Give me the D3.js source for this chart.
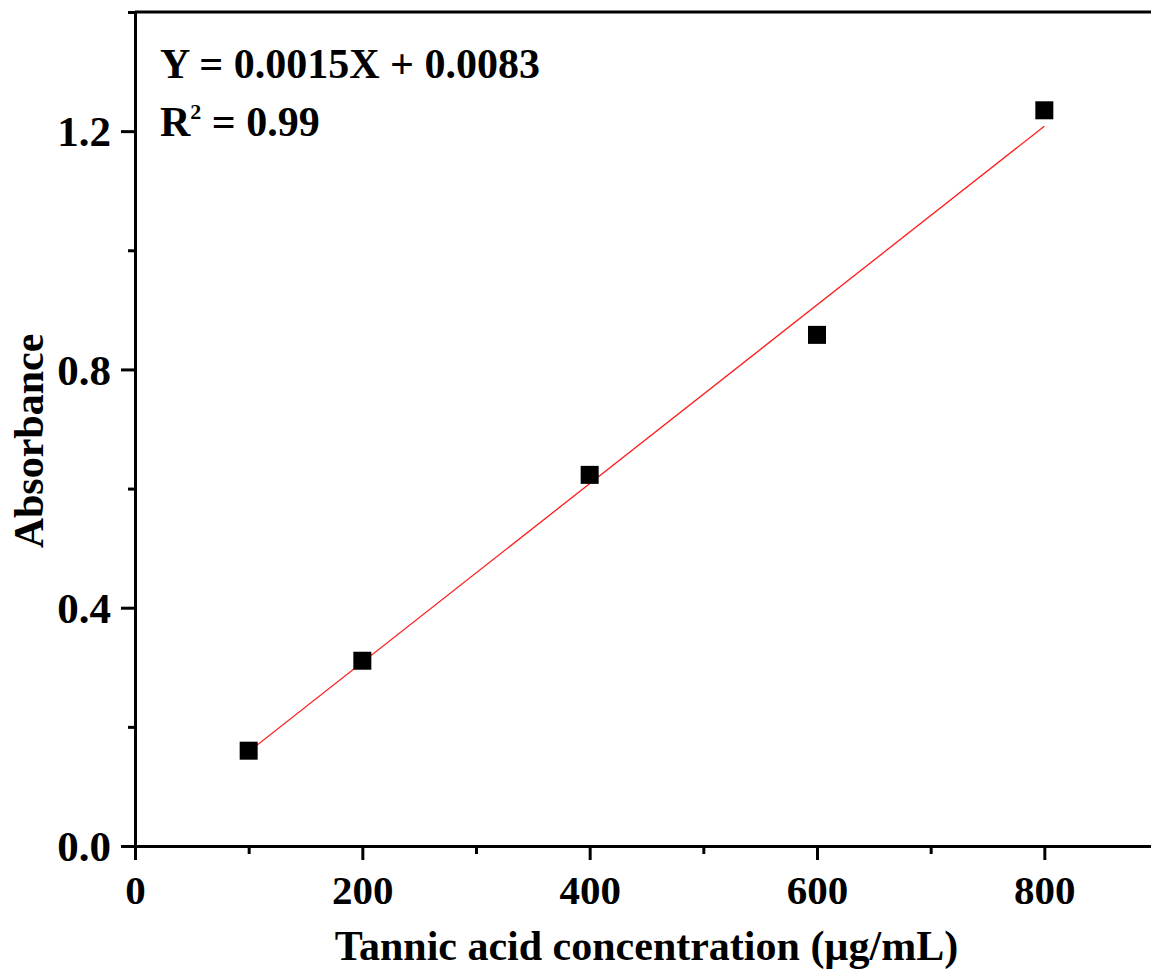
<!DOCTYPE html>
<html>
<head>
<meta charset="utf-8">
<script src="https://cdn.jsdelivr.net/npm/d3@7"></script>
<style>
  html, body { margin: 0; padding: 0; background: #fff; }
  svg { display: block; }
  text { font-family: "Liberation Serif", "Times New Roman", serif; font-weight: bold; fill: #000; }
</style>
</head>
<body>
<svg id="chart" width="1151" height="972"></svg>
<script>
// Tannic acid standard curve: concentration (µg/mL) vs absorbance
const concentrations = [100, 200, 400, 600, 800];
const absorbance = [0.160, 0.311, 0.623, 0.858, 1.235];

// Linear fit reported on the chart
const fitSlope = 0.0015;
const fitIntercept = 0.0083;
const fitRange = [100, 800];

const xMajorTicks = [0, 200, 400, 600, 800];
const xMinorTicks = [100, 300, 500, 700, 900];
const yMajorTicks = [0.0, 0.4, 0.8, 1.2];
const yMinorTicks = [0.2, 0.6, 1.0, 1.4];

const xTitle = "Tannic acid concentration (µg/mL)";
const yTitle = "Absorbance";

const svg = d3.select("#chart");
const plotLeft = 135, plotRight = 1158, plotTop = 12, plotBottom = 846;

const x = d3.scaleLinear().domain([0, 900]).range([plotLeft, plotRight]);
const y = d3.scaleLinear().domain([0, 1.4]).range([plotBottom, plotTop]);

const axisStroke = 3;
const fontStack = '"Liberation Serif", "Times New Roman", serif';

// Frame (top and right edges, no ticks)
svg.append("line")
  .attr("x1", plotLeft).attr("x2", plotRight + 2)
  .attr("y1", plotTop).attr("y2", plotTop)
  .attr("stroke", "#000").attr("stroke-width", axisStroke);
svg.append("line")
  .attr("x1", plotRight).attr("x2", plotRight)
  .attr("y1", plotTop).attr("y2", plotBottom)
  .attr("stroke", "#000").attr("stroke-width", axisStroke);

// Bottom axis
const xAxis = svg.append("g").attr("transform", `translate(0,${plotBottom})`)
  .call(d3.axisBottom(x).tickValues(xMajorTicks).tickSize(14).tickSizeOuter(0).tickPadding(15)
    .tickFormat(d3.format("d")));
const xMinor = svg.append("g").attr("transform", `translate(0,${plotBottom})`)
  .call(d3.axisBottom(x).tickValues(xMinorTicks).tickSize(8).tickSizeOuter(0).tickFormat(""));

// Left axis
const yAxis = svg.append("g").attr("transform", `translate(${plotLeft},0)`)
  .call(d3.axisLeft(y).tickValues(yMajorTicks).tickSize(14).tickSizeOuter(0).tickPadding(10)
    .tickFormat(d3.format(".1f")));
const yMinor = svg.append("g").attr("transform", `translate(${plotLeft},0)`)
  .call(d3.axisLeft(y).tickValues(yMinorTicks).tickSize(7).tickSizeOuter(0).tickFormat(""));

[xAxis, xMinor, yAxis, yMinor].forEach(g => {
  g.selectAll("path.domain").attr("stroke", "#000").attr("stroke-width", axisStroke);
  g.selectAll(".tick line").attr("stroke", "#000").attr("stroke-width", axisStroke);
  g.selectAll(".tick text")
    .style("font-family", fontStack)
    .style("font-weight", "bold")
    .attr("fill", "#000");
});
xAxis.selectAll(".tick text").style("font-size", "41px").attr("dy", "0.71em");
yAxis.selectAll(".tick text").style("font-size", "43px").attr("dy", "0.34em");

// Fitted line
const fitLine = d3.line()
  .x(d => x(d))
  .y(d => y(fitSlope * d + fitIntercept));
svg.append("path")
  .datum(fitRange)
  .attr("d", fitLine)
  .attr("fill", "none")
  .attr("stroke", "#ff1a1a")
  .attr("stroke-width", 1.3);

// Data points as squares
const markerSize = 18;
svg.append("g").selectAll("rect")
  .data(concentrations.map((c, i) => ({ c, a: absorbance[i] })))
  .join("rect")
  .attr("x", d => x(d.c) - markerSize / 2)
  .attr("y", d => y(d.a) - markerSize / 2)
  .attr("width", markerSize)
  .attr("height", markerSize)
  .attr("fill", "#000");

// Fit equation and R²
const eq = svg.append("text").attr("x", 160).attr("y", 78).style("font-size", "42px");
eq.text(`Y = ${fitSlope}X + ${fitIntercept}`);
const r2 = svg.append("text").attr("x", 160).attr("y", 136).style("font-size", "42px");
r2.append("tspan").text("R");
r2.append("tspan").attr("dy", -17).style("font-size", "22px").text("2");
r2.append("tspan").attr("dy", 17).text(" = 0.99");

// Axis titles
svg.append("text")
  .attr("x", (plotLeft + plotRight) / 2)
  .attr("y", 960)
  .attr("text-anchor", "middle")
  .style("font-size", "42px")
  .text(xTitle);

svg.append("text")
  .attr("transform", `translate(43,${441}) rotate(-90)`)
  .attr("text-anchor", "middle")
  .style("font-size", "42px")
  .text(yTitle);
</script>
</body>
</html>
